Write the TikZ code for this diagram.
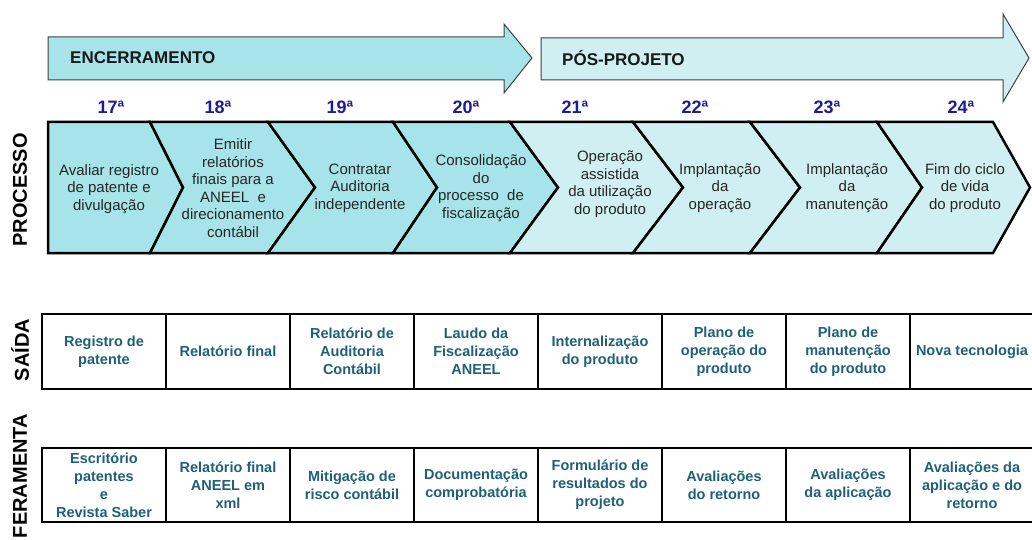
\documentclass[tikz,border=0pt]{standalone}
\usepackage{fontspec}
\setmainfont{Liberation Sans}
\usetikzlibrary{positioning}

\definecolor{encfill}{HTML}{A6E4EA}
\definecolor{posfill}{HTML}{D0EFF3}
\definecolor{numblue}{HTML}{1C1C96}
\definecolor{celltext}{HTML}{1E6078}
\definecolor{arrowline}{HTML}{404040}

\tikzset{
  phasearrow/.style={draw=arrowline, line width=1pt, line join=miter},
  phasetext/.style={anchor=west, inner sep=0pt, font=\fontsize{17}{20}\selectfont\bfseries, text=black!90},
  stepnum/.style={font=\fontsize{18}{20}\selectfont\bfseries, text=numblue},
  chevron/.style={draw=black, line width=2.5pt, line join=miter},
  chevtext/.style={align=center, font=\fontsize{15}{17.5}\selectfont, text=black!85},
  cell/.style={rectangle, draw, line width=2pt, outer sep=0pt, minimum width=124pt, minimum height=75pt, align=center, text=celltext, font=\fontsize{14.5}{18}\selectfont\bfseries},
  rowlabel/.style={rotate=90, font=\fontsize{20}{22}\selectfont\bfseries}
}

\begin{document}
\begin{tikzpicture}[x=1pt, y=-1pt]
    \useasboundingbox (0,0) rectangle (1032,540);

    % Phases
    \draw[phasearrow, fill=encfill] (48,37) -- (504,37) -- (504,24) -- (532,58) -- (504,93) -- (504,80) -- (48,80) -- cycle;
    \draw[phasearrow, fill=posfill] (541,38) -- (1003,38) -- (1003,14) -- (1029,58) -- (1003,102) -- (1003,80) -- (541,80) -- cycle;
    \node[phasetext] (enc) at (70,58) {ENCERRAMENTO};
    \node[phasetext] (pos) at (562,58) {PÓS-PROJETO};

    % Step numbers
    \node[stepnum] (n17) at (111,107) {17ª};
    \node[stepnum] (n18) at (218,107) {18ª};
    \node[stepnum] (n19) at (340,107) {19ª};
    \node[stepnum] (n20) at (466,107) {20ª};
    \node[stepnum] (n21) at (575,107) {21ª};
    \node[stepnum] (n22) at (695,107) {22ª};
    \node[stepnum] (n23) at (827,107) {23ª};
    \node[stepnum] (n24) at (961,107) {24ª};

    % Process chevrons
    \draw[chevron, fill=encfill] (48,122) -- (150,122) -- (183,187.5) -- (150,253) -- (48,253) -- cycle;
    \draw[chevron, fill=encfill] (150,122) -- (268,122) -- (315,187.5) -- (268,253) -- (150,253) -- (183,187.5) -- cycle;
    \draw[chevron, fill=encfill] (268,122) -- (393,122) -- (437,187.5) -- (393,253) -- (268,253) -- (315,187.5) -- cycle;
    \draw[chevron, fill=encfill] (393,122) -- (510,122) -- (558,187.5) -- (510,253) -- (393,253) -- (437,187.5) -- cycle;
    \draw[chevron, fill=posfill] (510,122) -- (633,122) -- (683,187.5) -- (633,253) -- (510,253) -- (558,187.5) -- cycle;
    \draw[chevron, fill=posfill] (633,122) -- (750,122) -- (800,187.5) -- (750,253) -- (633,253) -- (683,187.5) -- cycle;
    \draw[chevron, fill=posfill] (750,122) -- (877,122) -- (922,187.5) -- (877,253) -- (750,253) -- (800,187.5) -- cycle;
    \draw[chevron, fill=posfill] (877,122) -- (993,122) -- (1030,187.5) -- (993,253) -- (877,253) -- (922,187.5) -- cycle;

    \node[chevtext] (p17) at (109,189) {Avaliar registro\\de patente e\\divulgação};
    \node[chevtext] (p18) at (233,188) {Emitir\\relatórios\\finais para a\\ANEEL\ \ e\\direcionamento\\contábil};
    \node[chevtext] (p19) at (360,188) {Contratar\\Auditoria\\independente};
    \node[chevtext] (p20) at (481,188) {Consolidação\\do\\processo\ \ de\\fiscalização};
    \node[chevtext] (p21) at (610,184) {Operação\\assistida\\da utilização\\do produto};
    \node[chevtext] (p22) at (720,188) {Implantação\\da\\operação};
    \node[chevtext] (p23) at (847,188) {Implantação\\da\\manutenção};
    \node[chevtext] (p24) at (965,188) {Fim do ciclo\\de vida\\do produto};

    % Outputs
    \node[cell] (s17) at (104,351.5) {Registro de\\patente};
    \node[cell, right=0pt of s17] (s18) {Relatório final};
    \node[cell, right=0pt of s18] (s19) {Relatório de\\Auditoria\\Contábil};
    \node[cell, right=0pt of s19] (s20) {Laudo da\\Fiscalização\\ANEEL};
    \node[cell, right=0pt of s20] (s21) {Internalização\\do produto};
    \node[cell, right=0pt of s21] (s22) {Plano de\\operação do\\produto};
    \node[cell, right=0pt of s22] (s23) {Plano de\\manutenção\\do produto};
    \node[cell, right=0pt of s23] (s24) {Nova tecnologia};

    % Tools
    \node[cell, minimum height=74pt] (f17) at (104,485) {Escritório\\patentes\\e\\Revista Saber};
    \node[cell, minimum height=74pt, right=0pt of f17] (f18) {Relatório final\\ANEEL em\\xml};
    \node[cell, minimum height=74pt, right=0pt of f18] (f19) {Mitigação de\\risco contábil};
    \node[cell, minimum height=74pt, right=0pt of f19] (f20) {Documentação\\comprobatória};
    \node[cell, minimum height=74pt, right=0pt of f20] (f21) {Formulário de\\resultados do\\projeto};
    \node[cell, minimum height=74pt, right=0pt of f21] (f22) {Avaliações\\do retorno};
    \node[cell, minimum height=74pt, right=0pt of f22] (f23) {Avaliações\\da aplicação};
    \node[cell, minimum height=74pt, right=0pt of f23] (f24) {Avaliações da\\aplicação e do\\retorno};

    % Row labels
    \node[rowlabel] (lproc) at (20,190) {PROCESSO};
    \node[rowlabel] (lsaida) at (20,350) {SAÍDA};
    \node[rowlabel] (lferr) at (20,476) {FERAMENTA};

  \end{tikzpicture}
\end{document}
